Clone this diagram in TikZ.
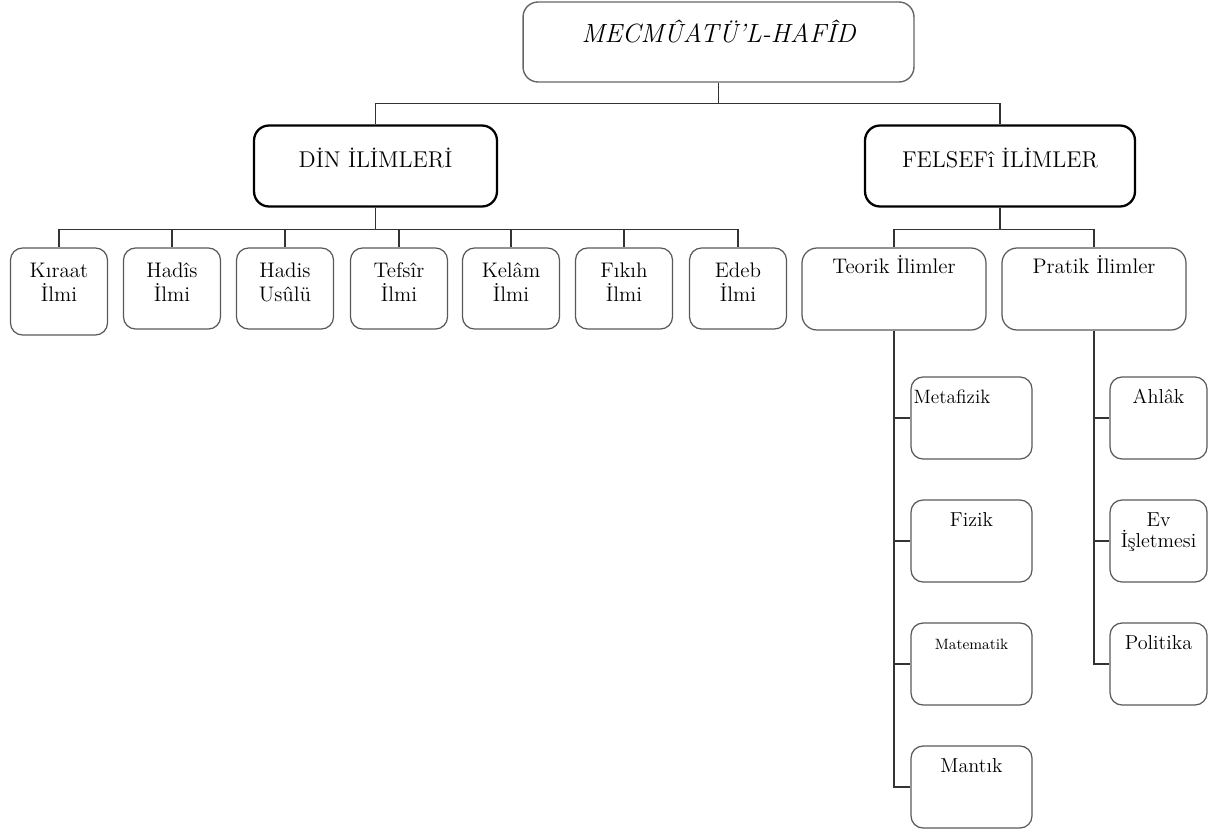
\documentclass[tikz,border=0pt]{standalone}
\usepackage{fontspec}

\tikzset{
  link/.style={draw=black!80, line width=0.6pt},
  titlebox/.style={draw=black!60, line width=0.8pt, rounded corners=0.3cm,
    minimum width=7.82cm, minimum height=1.6cm,
    font=\fontsize{15}{18}\selectfont\itshape, text height=0.3cm, text depth=0.28cm},
  mainbox/.style={draw=black, line width=1.3pt, rounded corners=0.3cm,
    minimum height=1.62cm, font=\fontsize{13}{15}\selectfont,
    text height=0.35cm, text depth=0.27cm},
  leafbox/.style={draw=black!65, line width=0.7pt, rounded corners=0.24cm,
    minimum width=1.94cm, minimum height=1.62cm, inner sep=0.05cm,
    text width=1.84cm, align=center, font=\fontsize{12}{14.2}\selectfont,
    text height=0.35cm, text depth=0.81cm},
  groupbox/.style={draw=black!65, line width=0.7pt, rounded corners=0.3cm,
    minimum width=3.68cm, minimum height=1.64cm, font=\fontsize{12}{14.2}\selectfont,
    text height=0.35cm, text depth=0.99cm},
  subbox/.style={draw=black!65, line width=0.7pt, rounded corners=0.24cm,
    minimum height=1.64cm, inner sep=0.05cm, align=center,
    font=\fontsize{11.5}{12.5}\selectfont, text height=0.35cm, text depth=0.95cm}
}

\begin{document}
\begin{tikzpicture}[x=0.02cm, y=-0.02cm]
  \useasboundingbox (0,0) rectangle (1212,831);

  % top
  \node[titlebox] (title) at (718.5,42) {MECMÛATÜ'L-HAFÎD};
  \node[mainbox, minimum width=4.86cm] (din) at (375.5,166) {DİN İLİMLERİ};
  \node[mainbox, minimum width=5.4cm] (felsefe) at (1000,166) {FELSEFî İLİMLER};

  \draw[link] (title.south) -- ++(0,21) -| (din.north);
  \draw[link] (title.south) -- ++(0,21) -| (felsefe.north);

  % din ilimleri
  \node[leafbox, minimum height=1.74cm, text depth=0.93cm] (kiraat) at (59,291.5) {Kıraat\\İlmi};
  \node[leafbox] (hadis) at (172,288.5) {Hadîs\\İlmi};
  \node[leafbox] (usul) at (285,288.5) {Hadis\\Usûlü};
  \node[leafbox] (tefsir) at (399,288.5) {Tefsîr\\İlmi};
  \node[leafbox] (kelam) at (511,288.5) {Kelâm\\İlmi};
  \node[leafbox] (fikih) at (624,288.5) {Fıkıh\\İlmi};
  \node[leafbox] (edeb) at (738,288.5) {Edeb\\İlmi};

  \foreach \n in {kiraat,hadis,usul,tefsir,kelam,fikih,edeb}
    \draw[link] (din.south) -- ++(0,22) -| (\n.north);

  % felsefi ilimler
  \node[groupbox] (teorik) at (894,289) {Teorik İlimler};
  \node[groupbox] (pratik) at (1094,289) {Pratik İlimler};

  \foreach \n in {teorik,pratik}
    \draw[link] (felsefe.south) -- ++(0,22) -| (\n.north);

  \node[subbox, minimum width=2.42cm, text width=2.32cm, align=left, font=\fontsize{11}{12}\selectfont] (metafizik) at (971.5,418) {Metafizik};
  \node[subbox, minimum width=2.42cm, text width=2.32cm] (fizik) at (971.5,541) {Fizik};
  \node[subbox, minimum width=2.42cm, text width=2.32cm, font=\fontsize{8.5}{10}\selectfont] (matematik) at (971.5,664) {Matematik};
  \node[subbox, minimum width=2.42cm, text width=2.32cm] (mantik) at (971.5,787) {Mantık};

  \node[subbox, minimum width=1.94cm, text width=1.84cm] (ahlak) at (1158.5,418) {Ahlâk};
  \node[subbox, minimum width=1.94cm, text width=1.84cm] (ev) at (1158.5,541) {Ev\\İşletmesi};
  \node[subbox, minimum width=1.94cm, text width=1.84cm] (politika) at (1158.5,664) {Politika};

  \foreach \n in {metafizik,fizik,matematik,mantik}
    \draw[link] (teorik.south) |- (\n.west);
  \foreach \n in {ahlak,ev,politika}
    \draw[link] (pratik.south) |- (\n.west);
\end{tikzpicture}
\end{document}
